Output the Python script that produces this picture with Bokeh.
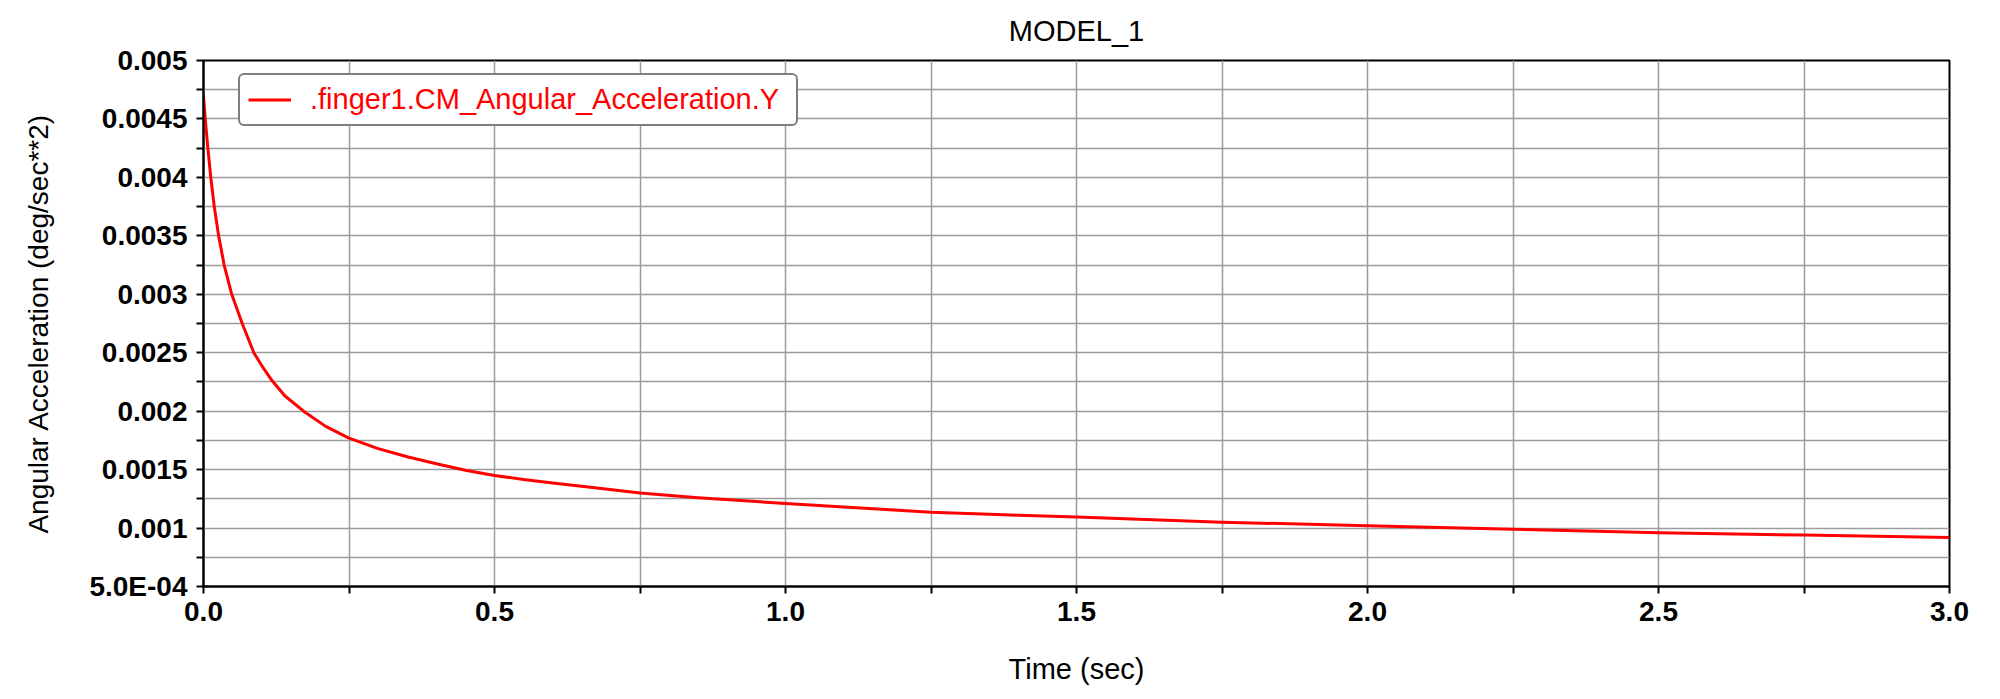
from bokeh.plotting import figure
from bokeh.models import Range1d, FixedTicker, Legend, LegendItem
from bokeh.embed import file_html
from bokeh.resources import INLINE

# ---- data ----
time_s = [0.0, 0.003, 0.0075, 0.0125, 0.0185, 0.026, 0.0355, 0.0485, 0.0665, 0.0865,
          0.10, 0.118, 0.14, 0.172, 0.21, 0.25, 0.30, 0.35, 0.40, 0.45,
          0.50, 0.55, 0.60, 0.68, 0.75, 0.85, 1.0, 1.1, 1.25, 1.4,
          1.5, 1.75, 2.0, 2.25, 2.5, 2.75, 3.0]
ang_acc = [0.00469, 0.0045, 0.00425, 0.0040, 0.00375, 0.0035, 0.00325, 0.0030, 0.00275, 0.0025,
           0.00239, 0.00226, 0.00213, 0.0020, 0.00187, 0.00177, 0.00168, 0.00161, 0.00155, 0.001495,
           0.00145, 0.001415, 0.001385, 0.00134, 0.00130, 0.00126, 0.00121, 0.00118, 0.001136, 0.00111,
           0.001094, 0.00105, 0.00102, 0.00099, 0.00096, 0.00094, 0.00092]

x_major = [0.0, 0.5, 1.0, 1.5, 2.0, 2.5, 3.0]
x_labels = ["0.0", "0.5", "1.0", "1.5", "2.0", "2.5", "3.0"]
x_minor = [0.25, 0.75, 1.25, 1.75, 2.25, 2.75]
y_major = [0.0005, 0.001, 0.0015, 0.002, 0.0025, 0.003, 0.0035, 0.004, 0.0045, 0.005]
y_labels = ["5.0E-04", "0.001", "0.0015", "0.002", "0.0025", "0.003", "0.0035", "0.004", "0.0045", "0.005"]
y_minor = [0.00075, 0.00125, 0.00175, 0.00225, 0.00275, 0.00325, 0.00375, 0.00425, 0.00475]

series_name = ".finger1.CM_Angular_Acceleration.Y"
title_text = "MODEL_1"
x_title = "Time (sec)"
y_title = "Angular Acceleration (deg/sec**2)"

FONT = "Liberation Sans"
GRID = "#9c9c9c"

p = figure(frame_width=1746, frame_height=526, output_backend="svg", toolbar_location=None,
           x_range=Range1d(0, 3), y_range=Range1d(0.0005, 0.005),
           min_border_left=203, min_border_right=35, min_border_top=60, min_border_bottom=100,
           background_fill_color="white", border_fill_color="white")

p.title.text = title_text
p.title.align = "center"
p.title.vertical_align = "middle"
p.title.text_font = FONT
p.title.text_font_size = "29px"
p.title.text_font_style = "normal"
p.title.text_color = "black"
p.title.standoff = 25

xt = FixedTicker(ticks=x_major, minor_ticks=x_minor)
yt = FixedTicker(ticks=y_major, minor_ticks=y_minor)
p.xaxis.ticker = xt
p.yaxis.ticker = yt
p.xgrid.ticker = xt
p.ygrid.ticker = yt
p.xaxis.major_label_overrides = dict(zip(x_major, x_labels))
p.yaxis.major_label_overrides = dict(zip(y_major, y_labels))

for ax in (p.xaxis[0], p.yaxis[0]):
    ax.axis_line_color = "black"
    ax.axis_line_width = 2
    ax.major_tick_line_color = "black"
    ax.minor_tick_line_color = "black"
    ax.major_tick_line_width = 2
    ax.minor_tick_line_width = 2
    ax.major_tick_in = 0
    ax.minor_tick_in = 0
    ax.major_tick_out = 7
    ax.minor_tick_out = 7
    ax.major_label_text_font = FONT
    ax.major_label_text_font_size = "28px"
    ax.major_label_text_font_style = "bold"
    ax.major_label_text_color = "black"
    ax.axis_label_text_font = FONT
    ax.axis_label_text_font_style = "normal"
    ax.axis_label_text_color = "black"

p.xaxis.axis_label = x_title
p.yaxis.axis_label = y_title
p.xaxis.axis_label_text_font_size = "29px"
p.yaxis.axis_label_text_font_size = "28px"
p.xaxis.major_label_standoff = 8
p.xaxis.axis_label_standoff = 29
p.yaxis.major_label_standoff = 9
p.yaxis.axis_label_standoff = 32
p.yaxis.major_label_orientation = "horizontal"

for g in (p.xgrid[0], p.ygrid[0]):
    g.grid_line_color = GRID
    g.grid_line_width = 1.5
    g.minor_grid_line_color = GRID
    g.minor_grid_line_width = 1.5

p.outline_line_color = "black"
p.outline_line_width = 2

r = p.line(time_s, ang_acc, line_color="#ff0000", line_width=3, line_join="round")

legend = Legend(items=[LegendItem(label=series_name, renderers=[r])],
                location=(35, 460), orientation="vertical",
                label_text_font=FONT, label_text_font_size="29px", label_text_color="#ff0000",
                border_line_color="black", border_line_width=2,
                background_fill_color="white", background_fill_alpha=1.0,
                padding=8, spacing=0, margin=0, glyph_width=43, glyph_height=33,
                label_height=33, label_width=478, label_standoff=19)
if "border_radius" in Legend.properties():
    legend.border_radius = 6
p.add_layout(legend)

open("out.html", "w").write(file_html(p, INLINE))
